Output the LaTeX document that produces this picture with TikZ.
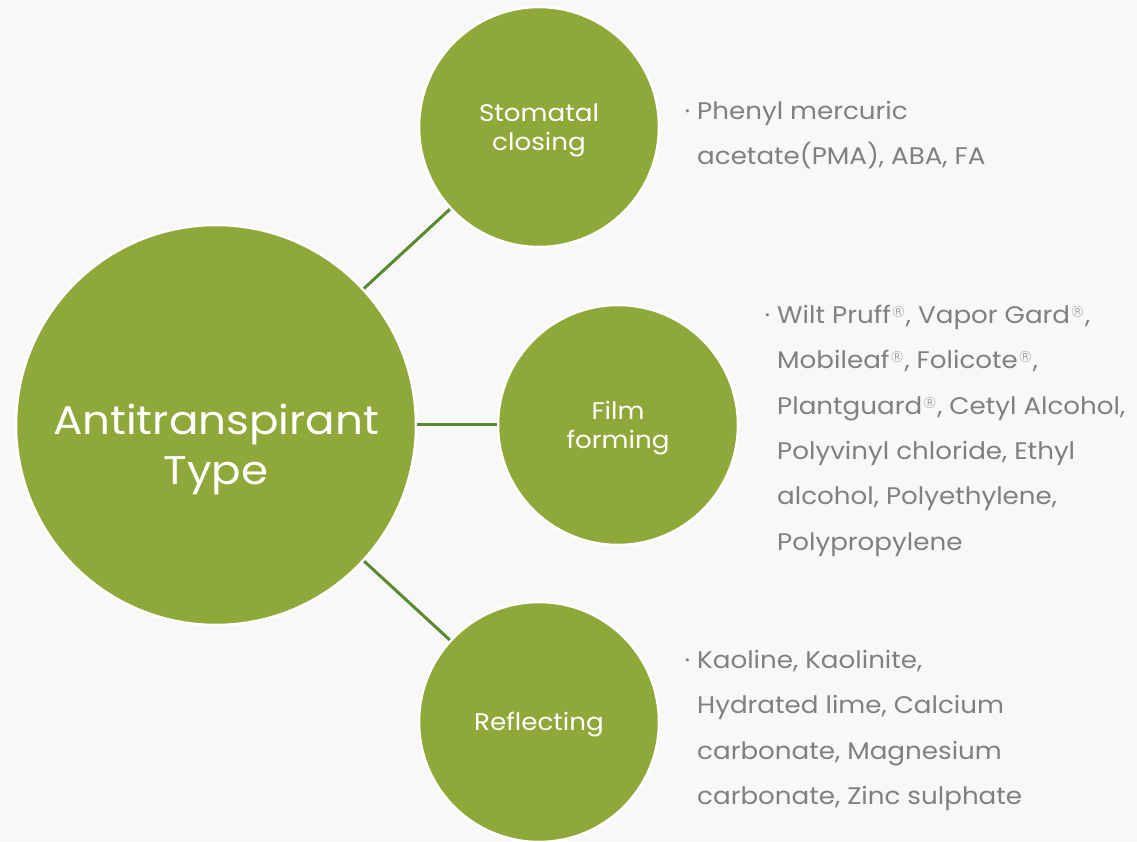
\documentclass[tikz,border=0pt]{standalone}
\usepackage{fontspec}
\setmainfont[FakeStretch=1.09]{Poppins}
\newfontfamily\markfont{DejaVu Sans ExtraLight}
\definecolor{leaf}{HTML}{8FA83A}
\definecolor{stem}{HTML}{5A8A30}
\definecolor{paper}{HTML}{F8F8F8}
\definecolor{ink}{HTML}{808080}
\newcommand{\regmark}{\raisebox{6pt}{\markfont\fontsize{15}{15}\selectfont\textregistered}}
\newcommand{\dotitem}{\llap{\textperiodcentered\hspace{7pt}}}

\begin{document}
\begin{tikzpicture}[
    x=1pt, y=1pt,
    hub/.style={circle, fill=leaf, draw=white, line width=2.5pt, minimum size=400pt, inner sep=0pt},
    hubtext/.style={text=white, align=center, font=\fontsize{40}{50}\selectfont},
    kind/.style={circle, fill=leaf, draw=white, line width=2.5pt, minimum size=240pt, inner sep=0pt},
    kindtext/.style={text=white, align=center, font=\fontsize{24}{29}\selectfont},
    items/.style={anchor=north west, inner sep=0pt, align=left, text=ink, font=\fontsize{24}{45.3}\selectfont},
    link/.style={draw=stem, line width=3pt}
]
    \fill[paper] (0,0) rectangle (1137,841);
    \useasboundingbox (0,0) rectangle (1137,841);

    % Circles
    \node[hub] (type) at (216,416) {};
    \node[kind] (stoma) at (539,714) {};
    \node[kind] (film) at (618,416) {};
    \node[kind] (reflect) at (539,119) {};

    % Circle names
    \node[hubtext] (typename) at ([yshift=-24pt]type.center) {Antitranspirant\\Type};
    \node[kindtext] (stomaname) at ([yshift=-3pt]stoma.center) {Stomatal\\closing};
    \node[kindtext] (filmname) at ([yshift=-3pt]film.center) {Film\\forming};
    \node[kindtext] (reflectname) at ([yshift=-3pt]reflect.center) {Reflecting};

    % Links
    \draw[link] (type) -- (stoma);
    \draw[link] (type) -- (film);
    \draw[link] (type) -- (reflect);

    % Examples of each type
    \node[items] (stomalist) at (697,740) {\dotitem Phenyl mercuric\\acetate(PMA), ABA, FA};
    \node[items] (filmlist) at (777,536) {\dotitem Wilt Pruff\regmark, Vapor Gard\regmark,\\Mobileaf\regmark, Folicote\regmark,\\Plantguard\regmark, Cetyl Alcohol,\\Polyvinyl chloride, Ethyl\\alcohol, Polyethylene,\\Polypropylene};
    \node[items] (reflectlist) at (697,191) {\dotitem Kaoline, Kaolinite,\\Hydrated lime, Calcium\\carbonate, Magnesium\\carbonate, Zinc sulphate};
\end{tikzpicture}
\end{document}
